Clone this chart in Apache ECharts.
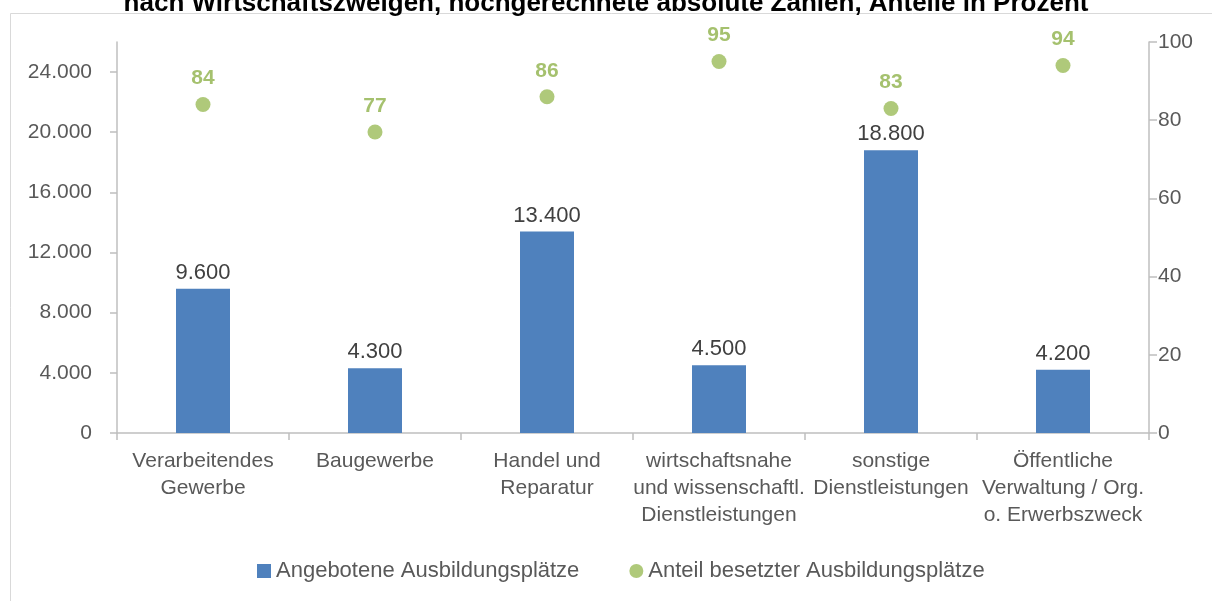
<!DOCTYPE html>
<html>
<head>
<meta charset="utf-8">
<script src="https://cdn.jsdelivr.net/npm/echarts@6/dist/echarts.min.js"></script>
<style>
  html, body { margin: 0; padding: 0; background: #fff; }
  #chart { width: 1212px; height: 601px; }
</style>
</head>
<body>
<div id="chart"></div>
<script>
const categories = [
  "Verarbeitendes\nGewerbe",
  "Baugewerbe",
  "Handel und\nReparatur",
  "wirtschaftsnahe\nund wissenschaftl.\nDienstleistungen",
  "sonstige\nDienstleistungen",
  "Öffentliche\nVerwaltung / Org.\no. Erwerbszweck"
];
const angebotene = [9600, 4300, 13400, 4500, 18800, 4200];
const anteil = [84, 77, 86, 95, 83, 94];
const leftTicks = [0, 4000, 8000, 12000, 16000, 20000, 24000];
const rightTicks = [0, 20, 40, 60, 80, 100];

const FONT = "Liberation Sans";
const axisColor = "#bfbfbf";

// Tausendertrennzeichen mit Punkt
function fmt(v) {
  return String(v).replace(/\B(?=(\d{3})+(?!\d))/g, ".");
}

const chart = echarts.init(document.getElementById("chart"));

const option = {
  backgroundColor: "#fff",
  textStyle: { fontFamily: FONT },
  animation: false,
  title: {
    text: "nach Wirtschaftszweigen, hochgerechnete absolute Zahlen, Anteile in Prozent",
    left: "center",
    top: -14,
    textStyle: { fontFamily: FONT, fontSize: 26, fontWeight: "bold", color: "#000" }
  },
  graphic: [
    {
      type: "rect",
      z: -1,
      shape: { x: 10.5, y: 13.5, width: 1300, height: 700 },
      style: { fill: "none", stroke: "#d9d9d9", lineWidth: 1 }
    }
  ],
  legend: {
    bottom: 14,
    left: 252,
    itemWidth: 14,
    itemHeight: 14,
    itemGap: 50,
    textStyle: { fontFamily: FONT, fontSize: 22, color: "#595959" },
    data: [
      { name: "Angebotene Ausbildungsplätze", icon: "rect" },
      { name: "Anteil besetzter Ausbildungsplätze", icon: "circle" }
    ]
  },
  grid: { left: 117, right: 63, top: 42, bottom: 168 },
  xAxis: {
    type: "category",
    data: categories,
    axisLine: { lineStyle: { color: axisColor, width: 1.5 } },
    axisTick: { show: true, length: 7, lineStyle: { color: axisColor, width: 1.5 } },
    axisLabel: {
      interval: 0,
      margin: 15,
      fontFamily: FONT,
      fontSize: 21,
      lineHeight: 27,
      color: "#595959"
    }
  },
  yAxis: [
    {
      type: "value",
      min: 0,
      max: 26000,
      interval: 4000,
      position: "left",
      splitLine: { show: false },
      axisLine: { show: true, lineStyle: { color: axisColor, width: 1.5 } },
      axisTick: { show: true, length: 7, customValues: leftTicks, lineStyle: { color: axisColor, width: 1.5 } },
      axisLabel: {
        customValues: leftTicks,
        margin: 25,
        fontFamily: FONT,
        fontSize: 21,
        color: "#595959",
        formatter: (v) => fmt(v)
      }
    },
    {
      type: "value",
      min: 0,
      max: 100,
      interval: 20,
      position: "right",
      splitLine: { show: false },
      axisLine: { show: true, lineStyle: { color: axisColor, width: 1.5 } },
      axisTick: { show: true, length: 8, customValues: rightTicks, lineStyle: { color: axisColor, width: 1.5 } },
      axisLabel: {
        customValues: rightTicks,
        margin: 9,
        fontFamily: FONT,
        fontSize: 21,
        color: "#595959"
      }
    }
  ],
  series: [
    {
      name: "Angebotene Ausbildungsplätze",
      type: "bar",
      yAxisIndex: 0,
      barWidth: 54,
      data: angebotene,
      itemStyle: { color: "#4f81bd" },
      label: {
        show: true,
        position: "top",
        distance: 5,
        fontFamily: FONT,
        fontSize: 22,
        color: "#404040",
        formatter: (p) => fmt(p.value)
      }
    },
    {
      name: "Anteil besetzter Ausbildungsplätze",
      type: "scatter",
      yAxisIndex: 1,
      symbol: "circle",
      symbolSize: 15,
      data: anteil,
      itemStyle: { color: "#9bbb59" },
      label: {
        show: true,
        position: "top",
        distance: 8,
        fontFamily: FONT,
        fontSize: 21,
        fontWeight: "bold",
        color: "#8fb24a"
      }
    }
  ]
};

chart.setOption(option);
</script>
</body>
</html>
